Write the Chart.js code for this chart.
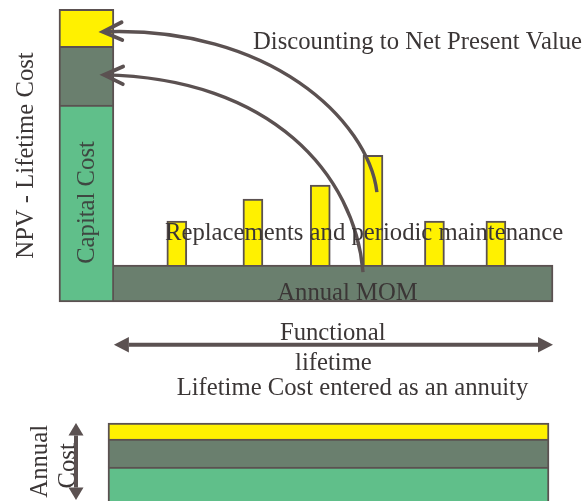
<!DOCTYPE html>
<html>
<head>
<meta charset="utf-8">
<script src="https://cdn.jsdelivr.net/npm/chart.js@4/dist/chart.umd.min.js"></script>
<style>
  html, body { margin: 0; padding: 0; background: #ffffff; overflow: hidden; }
  #wrap { position: relative; width: 585px; height: 501px; overflow: hidden; }
  #npvChart { position: absolute; left: 0; top: 0; }
  #annuityChart { position: absolute; left: 0; top: 415px; }
</style>
</head>
<body>
<div id="wrap">
  <canvas id="npvChart" width="585" height="410"></canvas>
  <canvas id="annuityChart" width="585" height="160"></canvas>
</div>
<script>
// ---- Cash-flow picture over the functional lifetime (years, cost units) ----
const functionalLifetime = 30;                       // years
const annualMOM = 12.6;                              // yearly maintenance, operation & management
const replacementYears = [4.3, 9.5, 14.1, 17.7, 21.9, 26.1];
const replacementCosts = [15.0, 22.5, 27.3, 37.5, 15.0, 15.0];

// ---- Lifetime cost discounted to net present value (stacked column) ----
const npvParts  = ['Capital Cost', 'Annual MOM', 'Replacements'];
const npvValues = [67.2, 20.1, 12.6];

// ---- Same lifetime cost expressed as an annuity ----
const annuityParts  = ['Capital Cost', 'Annual MOM', 'Replacements'];
const annuityValues = [30.0, 9.6, 5.5];

// ---- Look ----
const FONT = '24.7px "Liberation Serif", "Times New Roman", serif';
const C = {
  capital: '#60bf8a',
  mom: '#6a7f6e',
  repl: '#fff100',
  edge: '#5b5151',
  text: '#3b3636',
  capText: '#3e4741'
};
const partColors = [C.capital, C.mom, C.repl];

// Geometry of the upper plot (pixels) and its year range
const PLOT = { left: 59, right: 553, top: 9, bottom: 302 };
const X_MIN = -3.75, X_MAX = functionalLifetime;
const pxPerYear = (PLOT.right - PLOT.left) / (X_MAX - X_MIN);
const NPV_COLUMN_X = X_MIN / 2;                      // column sits left of year 0

// cumulative bounds of the NPV stack
const npvBounds = [];
npvValues.reduce((acc, v) => { npvBounds.push([acc, acc + v]); return acc + v; }, 0);

// ---- drawing helpers ----
function label(ctx, text, x, y, align, color, rotate) {
  ctx.save();
  ctx.font = FONT;
  ctx.fillStyle = color || C.text;
  ctx.textAlign = align || 'left';
  ctx.textBaseline = 'alphabetic';
  ctx.translate(x, y);
  if (rotate) ctx.rotate(-Math.PI / 2);
  ctx.fillText(text, 0, 0);
  ctx.restore();
}

function curvedArrow(ctx, p0, p1, p2, p3) {
  ctx.save();
  ctx.strokeStyle = C.edge;
  ctx.lineWidth = 3.4;
  ctx.lineCap = 'butt';
  ctx.beginPath();
  ctx.moveTo(p0[0], p0[1]);
  ctx.bezierCurveTo(p1[0], p1[1], p2[0], p2[1], p3[0], p3[1]);
  ctx.stroke();
  // open chevron head, aligned with the curve's end tangent
  const back = Math.atan2(p2[1] - p3[1], p2[0] - p3[0]);
  const len = 21, spread = 25 * Math.PI / 180;
  ctx.lineJoin = 'miter';
  ctx.lineCap = 'round';
  ctx.lineWidth = 3.8;
  ctx.beginPath();
  ctx.moveTo(p3[0] + len * Math.cos(back + spread), p3[1] + len * Math.sin(back + spread));
  ctx.lineTo(p3[0], p3[1]);
  ctx.lineTo(p3[0] + len * Math.cos(back - spread), p3[1] + len * Math.sin(back - spread));
  ctx.stroke();
  ctx.restore();
}

function doubleArrow(ctx, a, b, headLen, headHalf, shaft) {
  const ang = Math.atan2(b[1] - a[1], b[0] - a[0]);
  const ux = Math.cos(ang), uy = Math.sin(ang);
  const nx = -uy, ny = ux;
  ctx.save();
  ctx.strokeStyle = C.edge;
  ctx.fillStyle = C.edge;
  ctx.lineWidth = shaft;
  ctx.beginPath();
  ctx.moveTo(a[0] + ux * headLen, a[1] + uy * headLen);
  ctx.lineTo(b[0] - ux * headLen, b[1] - uy * headLen);
  ctx.stroke();
  [[a, -1], [b, 1]].forEach(([tip, dir]) => {
    const bx = tip[0] - dir * ux * headLen, by = tip[1] - dir * uy * headLen;
    ctx.beginPath();
    ctx.moveTo(tip[0], tip[1]);
    ctx.lineTo(bx + nx * headHalf, by + ny * headHalf);
    ctx.lineTo(bx - nx * headHalf, by - ny * headHalf);
    ctx.closePath();
    ctx.fill();
  });
  ctx.restore();
}

// Annotations of the upper plot, placed in year / cost units
const npvAnnotations = {
  id: 'npvAnnotations',
  afterDatasetsDraw(chart) {
    const { ctx, scales: { x, y } } = chart;
    const P = (yr, v) => [x.getPixelForValue(yr), y.getPixelForValue(v)];

    // discounting arrows back to the NPV column
    curvedArrow(ctx, P(17.97, 37.5), P(17.36, 62.1), P(10.66, 94.4), P(-0.75, 92.2));
    curvedArrow(ctx, P(17.02, 10.2), P(16.47, 43.3), P(10.8, 76.45), P(-0.68, 77.5));

    // functional lifetime span
    doubleArrow(ctx, P(0, -14.57), P(functionalLifetime, -14.57), 15, 7.7, 4);

    let p;
    p = P(9.5, 86.35);  label(ctx, 'Discounting to Net Present Value', p[0], p[1], 'left');
    p = P(3.49, 21.2);  label(ctx, 'Replacements and periodic maintenance', p[0], p[1], 'left');
    p = P(15.96, 0.68); label(ctx, 'Annual MOM', p[0], p[1], 'center');
    p = P(-1.33, 33.96); label(ctx, 'Capital Cost', p[0], p[1], 'center', C.capText, true);
    p = P(-5.54, 50);   label(ctx, 'NPV - Lifetime Cost', p[0], p[1], 'center', C.text, true);
    p = P(14.95, -12.97); label(ctx, 'Functional', p[0], p[1], 'center');
    p = P(15, -23.2);   label(ctx, 'lifetime', p[0], p[1], 'center');
    p = P(16.3, -31.7); label(ctx, 'Lifetime Cost entered as an annuity', p[0], p[1], 'center');
  }
};

const barBase = {
  type: 'bar',
  borderColor: C.edge,
  borderWidth: 2,
  clip: false
};

new Chart(document.getElementById('npvChart'), {
  type: 'bar',
  data: {
    datasets: [
      // lump sums for replacements / periodic maintenance, sitting on the annual MOM band
      Object.assign({}, barBase, {
        label: 'Replacements',
        data: replacementYears.map((yr, i) => ({ x: yr, y: [annualMOM, annualMOM + replacementCosts[i]] })),
        backgroundColor: C.repl,
        barThickness: 20,
        borderSkipped: 'bottom'
      }),
      // annual MOM over the whole functional lifetime
      Object.assign({}, barBase, {
        label: 'Annual MOM',
        data: [{ x: functionalLifetime / 2, y: [0, annualMOM] }],
        backgroundColor: C.mom,
        barThickness: functionalLifetime * pxPerYear,
        borderSkipped: 'left'
      }),
      // NPV column, one floating segment per part
      ...npvParts.map((name, i) => Object.assign({}, barBase, {
        label: 'NPV ' + name,
        data: [{ x: NPV_COLUMN_X, y: npvBounds[i] }],
        backgroundColor: partColors[i],
        barThickness: (0 - X_MIN) * pxPerYear,
        borderSkipped: i === 0 ? false : 'bottom'
      }))
    ]
  },
  options: {
    responsive: false,
    animation: false,
    events: [],
    layout: { padding: { left: PLOT.left, right: 585 - PLOT.right, top: PLOT.top, bottom: 410 - PLOT.bottom } },
    datasets: { bar: { grouped: false } },
    plugins: { legend: { display: false }, tooltip: { enabled: false } },
    scales: {
      x: { type: 'linear', min: X_MIN, max: X_MAX, offset: false, display: false },
      y: { type: 'linear', min: 0, max: 100, display: false }
    }
  },
  plugins: [npvAnnotations]
});

// Annotations of the annuity band
const annuityAnnotations = {
  id: 'annuityAnnotations',
  afterDatasetsDraw(chart) {
    const { ctx, chartArea, scales: { y } } = chart;
    const total = annuityValues.reduce((a, b) => a + b, 0);
    const ax = chartArea.left - 32;
    label(ctx, 'Annual', chartArea.left - 61, y.getPixelForValue(total - 13.1), 'center', C.text, true);
    label(ctx, 'Cost', chartArea.left - 33, y.getPixelForValue(total - 14.65), 'center', C.text, true);
    doubleArrow(ctx, [ax, y.getPixelForValue(total)], [ax, y.getPixelForValue(total - 26.3)], 12.5, 7.5, 4);
  }
};

new Chart(document.getElementById('annuityChart'), {
  type: 'bar',
  data: {
    labels: ['Annual cost'],
    datasets: annuityParts.map((name, i) => ({
      label: name,
      data: [annuityValues[i]],
      backgroundColor: partColors[i],
      borderColor: C.edge,
      borderWidth: 2,
      borderSkipped: i === 0 ? false : 'bottom',
      categoryPercentage: 1,
      barPercentage: 1,
      clip: false
    }))
  },
  options: {
    responsive: false,
    animation: false,
    events: [],
    layout: { padding: { left: 108, right: 36, top: 8, bottom: 20 } },
    plugins: { legend: { display: false }, tooltip: { enabled: false } },
    scales: {
      x: { stacked: true, display: false },
      y: { stacked: true, min: 0, max: annuityValues.reduce((a, b) => a + b, 0), display: false }
    }
  },
  plugins: [annuityAnnotations]
});
</script>
</body>
</html>
